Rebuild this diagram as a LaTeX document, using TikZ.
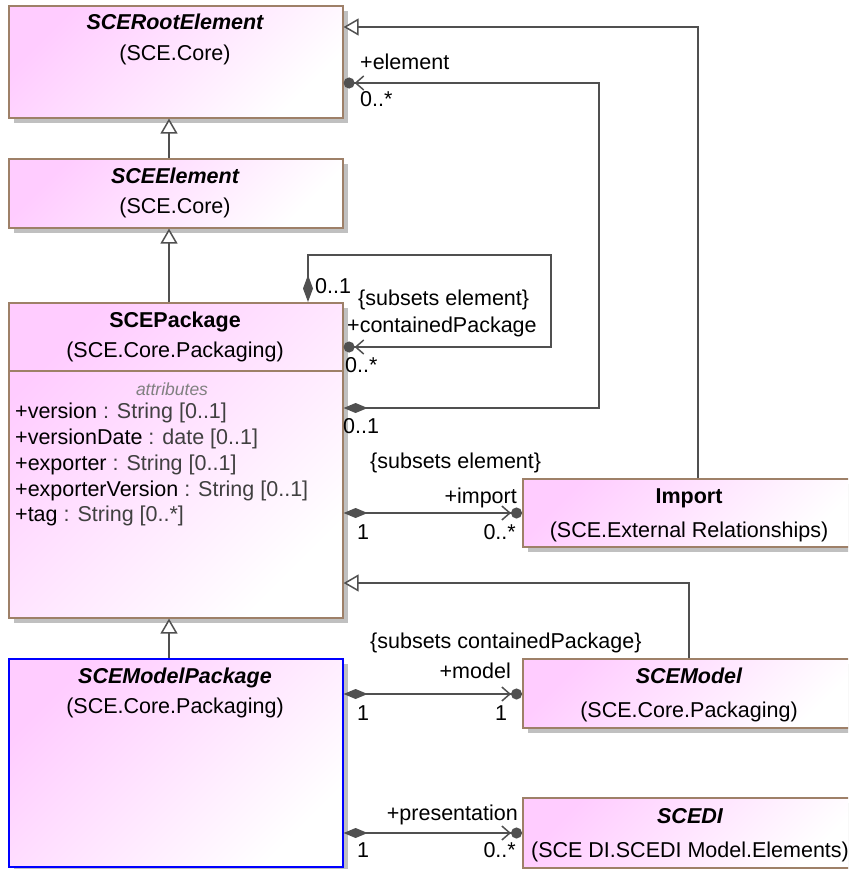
\documentclass[tikz,border=0pt]{standalone}
\usepackage{fontspec}
\setmainfont{Liberation Sans}
\usetikzlibrary{arrows.meta,shadows}

\definecolor{classpink}{RGB}{255,204,255}
\definecolor{classedge}{RGB}{158,128,104}
\definecolor{shadowgrey}{RGB}{192,192,192}
\definecolor{linegrey}{RGB}{80,80,80}
\definecolor{typegrey}{RGB}{64,64,64}
\definecolor{compgrey}{RGB}{128,128,128}

\begin{document}
\begin{tikzpicture}[x=1pt,y=-1pt,
  classbox/.style={draw=classedge, line width=1.6pt,
    top color=classpink, bottom color=white, shading angle=45,
    general shadow={fill=shadowgrey, shadow xshift=5pt, shadow yshift=-5pt},
    inner sep=0pt, anchor=north west},
  txt/.style={font=\fontsize{21.5}{26}\selectfont, inner sep=0pt},
  title/.style={txt, anchor=base},
  lbl/.style={txt, anchor=base west},
  lblr/.style={txt, anchor=base east},
  conn/.style={draw=linegrey, line width=1.5pt},
  gen/.style={conn, -{Triangle[fill=white, length=15pt, width=17pt]}},
  comp/.style={conn, {Diamond[length=24pt, width=10pt]}-{Straight Barb[length=8pt, width=14pt] Circle[length=11pt, width=11pt]}},
  compv/.style={conn, {Diamond[length=27pt, width=10pt]}-{Straight Barb[length=8pt, width=14pt] Circle[length=11pt, width=11pt]}}
]
\useasboundingbox (0,0) rectangle (848,869);
\clip (0,0) rectangle (848,869);

% class boxes
\node[classbox, minimum width=334pt, minimum height=112pt] (root) at (8,5) {};
\node[classbox, minimum width=334pt, minimum height=69pt] (elem) at (8,158) {};
\node[classbox, minimum width=334pt, minimum height=315pt] (pkg) at (8,302) {};
\node[classbox, draw=blue, minimum width=334pt, minimum height=208pt] (mpkg) at (8,658) {};
\node[classbox, minimum width=335pt, minimum height=68pt] (imp) at (522,478) {};
\node[classbox, minimum width=335pt, minimum height=69pt] (model) at (522,658) {};
\node[classbox, minimum width=335pt, minimum height=70pt] (scedi) at (522,797) {};

% attribute compartment separator
\coordinate (divy) at (0,371);
\draw[draw=classedge, line width=1.6pt] (pkg.west |- divy) -- (pkg.east |- divy);

% class names and packages
\node[title] (rootT) at (175,30) {\bfseries\itshape SCERootElement};
\node[title] (rootP) at (175,61) {(SCE.Core)};
\node[title] (elemT) at (175,183) {\bfseries\itshape SCEElement};
\node[title] (elemP) at (175,213) {(SCE.Core)};
\node[title] (pkgT) at (175,327) {\bfseries SCEPackage};
\node[title] (pkgP) at (175,357) {(SCE.Core.Packaging)};
\node[title] (mpkgT) at (175,683) {\bfseries\itshape SCEModelPackage};
\node[title] (mpkgP) at (175,713) {(SCE.Core.Packaging)};
\node[title] (impT) at (689,503) {\bfseries Import};
\node[title] (impP) at (689,537) {(SCE.External Relationships)};
\node[title] (modelT) at (689,683) {\bfseries\itshape SCEModel};
\node[title] (modelP) at (689,717) {(SCE.Core.Packaging)};
\node[title] (scediT) at (690,823) {\bfseries\itshape SCEDI};
\node[title] (scediP) at (690,857) {(SCE DI.SCEDI Model.Elements)};

% attributes
\node[font=\fontsize{17.5}{20}\selectfont\itshape, text=compgrey, inner sep=0pt, anchor=base] (attrH) at (172,395) {attributes};
\node[lbl] (at1) at (15,418) {+version\ \textcolor{typegrey}{: String [0..1]}};
\node[lbl] (at2) at (15,444) {+versionDate\ \textcolor{typegrey}{: date [0..1]}};
\node[lbl] (at3) at (15,470) {+exporter\ \textcolor{typegrey}{: String [0..1]}};
\node[lbl] (at4) at (15,496) {+exporterVersion\ \textcolor{typegrey}{: String [0..1]}};
\node[lbl] (at5) at (15,521) {+tag\ \textcolor{typegrey}{: String [0..*]}};

% routing coordinates
\coordinate (gx) at (169,0);
\coordinate (igx) at (698,0);
\coordinate (igy) at (0,27);
\coordinate (mgx) at (689,0);
\coordinate (mgy) at (0,583);
\coordinate (ex) at (599,0);
\coordinate (ey1) at (0,408);
\coordinate (ey2) at (0,83);
\coordinate (sx1) at (308,0);
\coordinate (sx2) at (551,0);
\coordinate (sy1) at (0,255);
\coordinate (sy2) at (0,347);
\coordinate (iy) at (0,513);
\coordinate (moy) at (0,694);
\coordinate (py) at (0,833);

% generalizations
\draw[gen] (elem.north -| gx) -- (root.south -| gx);
\draw[gen] (pkg.north -| gx) -- (elem.south -| gx);
\draw[gen] (mpkg.north -| gx) -- (pkg.south -| gx);
\draw[gen] (imp.north -| igx) |- (root.east |- igy);
\draw[gen] (model.north -| mgx) |- (pkg.east |- mgy);

% compositions
\draw[comp] (pkg.east |- ey1) -- (ex |- ey1) -- (ex |- ey2) -- (root.east |- ey2);
\draw[compv] (pkg.north -| sx1) -- (sx1 |- sy1) -- (sx2 |- sy1) -- (sx2 |- sy2) -- (pkg.east |- sy2);
\draw[comp] (pkg.east |- iy) -- (imp.west |- iy);
\draw[comp] (mpkg.east |- moy) -- (model.west |- moy);
\draw[comp] (mpkg.east |- py) -- (scedi.west |- py);

% association end labels
\node[lbl] (elemRole) at (360,70) {+element};
\node[lbl] (elemMult) at (360,107) {0..*};
\node[lbl] (elemOwn) at (343,433) {0..1};

\node[lbl] (cpOwn) at (315,293) {0..1};
\node[lbl] (cpSub) at (358,305) {\{subsets element\}};
\node[lbl] (cpRole) at (347,332) {+containedPackage};
\node[lbl] (cpMult) at (345,372) {0..*};

\node[lbl] (impSub) at (370,468) {\{subsets element\}};
\node[lblr] (impRole) at (517,503) {+import};
\node[lbl] (impOwn) at (357,539) {1};
\node[lblr] (impMult) at (516,539) {0..*};

\node[lbl] (modSub) at (370,648) {\{subsets containedPackage\}};
\node[lblr] (modRole) at (511,678) {+model};
\node[lbl] (modOwn) at (357,720) {1};
\node[lbl] (modMult) at (495,720) {1};

\node[lblr] (preRole) at (518,820) {+presentation};
\node[lbl] (preOwn) at (357,857) {1};
\node[lblr] (preMult) at (516,857) {0..*};
\end{tikzpicture}
\end{document}
